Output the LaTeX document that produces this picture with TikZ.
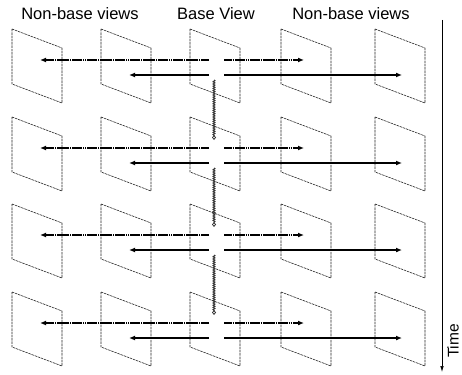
\documentclass[tikz,border=0pt]{standalone}
\usepackage{fontspec}
\setmainfont{Liberation Sans}
\usetikzlibrary{arrows.meta,decorations.pathmorphing}

\begin{document}
\begin{tikzpicture}[x=1pt,y=-1pt,
  frameline/.style={draw=black!85, line width=0.6pt, dash pattern=on 2.5pt off 0.8pt},
  headtxt/.style={inner sep=0pt, font=\fontsize{16.5}{19}\selectfont},
  interview/.style={draw=black, line width=2pt, dash pattern=on 1.8pt off 0.35pt,
                    -{Latex[length=6pt,width=5pt]}},
  solidview/.style={draw=black, line width=2.1pt, -{Latex[length=6pt,width=5pt]}},
  temporal/.style={draw=black!80, line width=1pt,
                   decorate, decoration={snake, amplitude=0.9pt, segment length=2.2pt, post length=4pt},
                   -{Diamond[open, length=5pt, width=4pt, line width=0.8pt]}},
  timeaxis/.style={draw=black, line width=0.6pt, -{Latex[length=6pt,width=3.5pt]}}]
\useasboundingbox (0,0) rectangle (462,374);

% column headings
\node[headtxt] (hleft)  at (80,14)  {Non-base views};
\node[headtxt] (hbase)  at (216,14) {Base View};
\node[headtxt] (hright) at (351,14) {Non-base views};

% frames: one skewed picture per view and time instant
\foreach \r/\ty in {1/29, 2/117, 3/204, 4/292} {
  \foreach \c/\tx in {1/12, 2/101, 3/190, 4/281, 5/375} {
    \draw[frameline] (\tx,\ty) -- ++(50,19) -- ++(0,55) -- ++(-50,-19) -- cycle;
  }
  % arrow end points of this time instant
  \coordinate (u\r s) at (209,\ty+31);
  \coordinate (u\r l) at (40,\ty+31);
  \coordinate (v\r s) at (224,\ty+31);
  \coordinate (v\r r) at (304,\ty+31);
  \coordinate (w\r s) at (209,\ty+46);
  \coordinate (w\r l) at (129,\ty+46);
  \coordinate (x\r s) at (224,\ty+46);
  \coordinate (x\r r) at (402,\ty+46);
  \coordinate (d\r s) at (214,\ty+51);
  \coordinate (d\r e) at (214,\ty+23);
  % inter-view prediction from the base view
  \draw[interview] (u\r s) -- (u\r l);
  \draw[interview] (v\r s) -- (v\r r);
  \draw[solidview] (w\r s) -- (w\r l);
  \draw[solidview] (x\r s) -- (x\r r);
}

% temporal prediction inside the base view
\draw[temporal] (d1s) -- (d2e);
\draw[temporal] (d2s) -- (d3e);
\draw[temporal] (d3s) -- (d4e);

% time axis
\coordinate (t0) at (442,20);
\coordinate (t1) at (442,372);
\draw[timeaxis] (t0) -- (t1);
\node[inner sep=0pt, font=\fontsize{15.5}{18}\selectfont, rotate=90] (tlabel) at (453,341) {Time};
\end{tikzpicture}
\end{document}
